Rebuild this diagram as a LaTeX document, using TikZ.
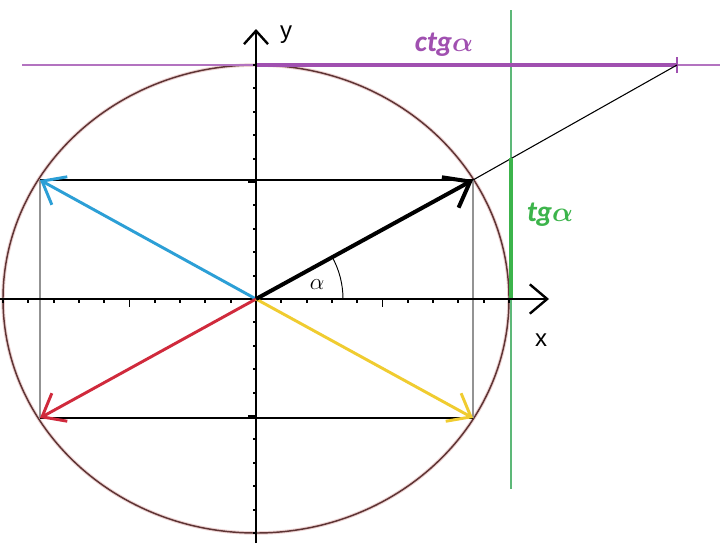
\documentclass[tikz,border=0pt]{standalone}
\usepackage{amsmath}
\usepackage{fontspec}
\setmainfont{Liberation Sans}
\newfontfamily\carl{Carlito}
\usetikzlibrary{arrows.meta}
\definecolor{vblue}{HTML}{2C9FD6}
\definecolor{vred}{HTML}{D02A3C}
\definecolor{vyellow}{HTML}{F0CC30}
\definecolor{vgreen}{HTML}{3CB44B}
\definecolor{lgreen}{HTML}{5DB878}
\definecolor{vpurple}{HTML}{A050B0}
\definecolor{circ}{HTML}{5E3434}
\definecolor{halo}{HTML}{EDD2D2}
\begin{document}
\begin{tikzpicture}[x=0.75pt,y=-0.75pt,
  vec/.style={line width=2.2pt,-{Straight Barb[length=15pt,width=24pt]}},
  axis/.style={line width=1.8pt},
  thinl/.style={line width=0.8pt,black},
  grayl/.style={line width=1.1pt,gray!85},
  tick/.style={line width=1.4pt}]
\useasboundingbox (0,0) rectangle (720,546);
\fill[white] (0,0) rectangle (720,546);
\coordinate (O) at (256,299);
\coordinate (A) at (473,180);
\coordinate (B) at (40,180);
\coordinate (C) at (40,418);
\coordinate (D) at (473,418);
\coordinate (T) at (511,158);
\coordinate (K) at (677,65);
\coordinate (Xs) at (0,299);
\coordinate (Xe) at (549,299);
\coordinate (Ys) at (256,543);
\coordinate (Ye) at (256,29);
% circle
\draw[halo,line width=2.6pt] (O) ellipse[x radius=253, y radius=234];
\draw[circ,line width=1.1pt] (O) ellipse[x radius=253, y radius=234];
% helper lines
\draw[thinl] (B) -- (A);
\draw[thinl] (C) -- (D);
\draw[grayl] (B) -- (C);
\draw[grayl] (A) -- (D);
% tangent lines
\draw[lgreen,line width=1pt] (511,10) coordinate (G1) -- (511,489) coordinate (G2);
\draw[vpurple!80,line width=1.2pt] (22,65) coordinate (P1) -- (720,65) coordinate (P2);
\draw[vpurple,line width=2.6pt] (256,65) coordinate (P3) -- (K);
\draw[vpurple,line width=1.6pt] (677,57) -- (677,73);
\draw[line width=0.8pt] (A) -- (K);
\draw[vgreen,line width=3pt] (511,299) coordinate (G3) -- (T);
% axes
\draw[axis,-{Straight Barb[length=13pt,width=22pt]}] (Xs) -- (Xe);
\draw[axis,-{Straight Barb[length=10pt,width=18pt]}] (Ys) -- (Ye);
\foreach \k in {-10,...,-1,1,2,...,10}{
  \pgfmathsetmacro{\xx}{256+\k*25.3}
  \pgfmathsetmacro{\yy}{299+\k*23.4}
  \ifnum\k=5 \def\L{8}\else\ifnum\k=-5 \def\L{8}\else\def\L{3.5}\fi\fi
  \draw[tick] (\xx,299) -- ++(0,\L);
  \draw[tick] (256,\yy) -- ++(-\L,0);
}
% angle
\draw[line width=0.7pt] (343,299) arc[start angle=0,end angle=-29,radius=87];
\node (al) at (317,285) {\fontsize{18}{18}\selectfont$\alpha$};
% vectors
\draw[vec,vblue] (O) -- (B);
\draw[vec,vred] (O) -- (C);
\draw[vec,vyellow] (O) -- (D);
\draw[vec,black,line width=3pt,-{Straight Barb[length=17pt,width=26pt]}] (O) -- (A);
% labels
\node (ly) at (286,35) {\fontsize{18}{18}\selectfont y};
\node (lx) at (541,340) {\fontsize{18}{18}\selectfont x};
\node[text=vpurple] (lctg) at (444,45) {\fontsize{22}{22}\selectfont\carl\bfseries\itshape ctg$\boldsymbol{\alpha}$};
\node[text=vgreen] (ltg) at (550,215) {\fontsize{22}{22}\selectfont\carl\bfseries\itshape tg$\boldsymbol{\alpha}$};
\end{tikzpicture}
\end{document}
